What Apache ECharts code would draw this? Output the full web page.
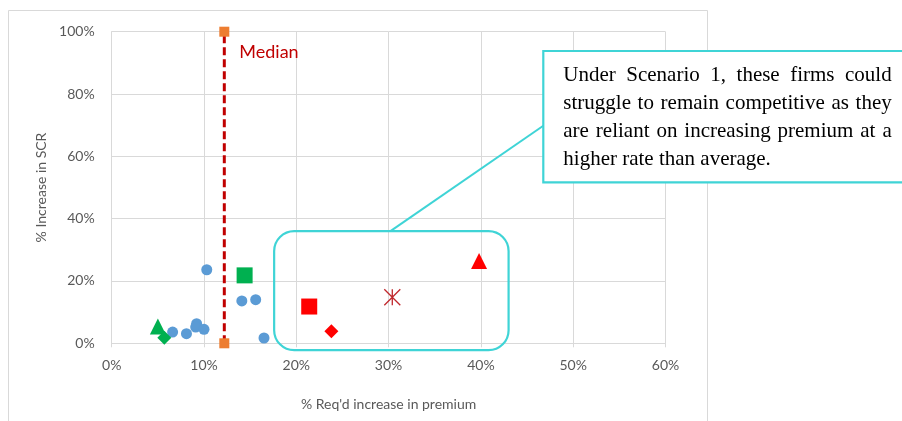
<!DOCTYPE html>
<html>
<head>
<meta charset="utf-8">
<script src="https://cdn.jsdelivr.net/npm/echarts@6/dist/echarts.min.js"></script>
<style>
  html, body { margin: 0; padding: 0; background: #fff; }
  #chart { width: 902px; height: 421px; }
</style>
</head>
<body>
<div id="chart"></div>
<script>
// Required premium increase (%) vs. increase in SCR (%) per firm
const peerFirms = [[10.3, 23.6], [14.1, 13.6], [15.6, 14.0], [6.6, 3.6], [8.1, 3.1],
                   [9.2, 6.3], [9.1, 5.2], [10.0, 4.5], [16.5, 1.7]];
const greenSquare = [[14.4, 21.8]];
const greenTriangle = [[5.0, 5.4]];
const greenDiamond = [[5.7, 1.8]];
const redSquare = [[21.4, 11.8]];
const redDiamond = [[23.8, 3.9]];
const redTriangle = [[39.8, 26.4]];
const redStar = [[30.4, 14.8]];
const medianPremium = 12.2;
const medianLine = [[medianPremium, 0], [medianPremium, 100]];

const xTicks = [0, 10, 20, 30, 40, 50, 60];
const yTicks = [0, 20, 40, 60, 80, 100];

const xTitle = "% Req'd increase in premium";
const yTitle = '% Increase in SCR';
const medianText = 'Median';
const calloutLines = [
  'Under Scenario 1, these firms could',
  'struggle to remain competitive as they',
  'are reliant on increasing premium at a',
  'higher rate than average.'
];

const AXIS_FONT = 'Lato';
const GREY_TEXT = '#595959';
const GRID_GREY = '#d9d9d9';
const CYAN = '#3fd4d6';

const chart = echarts.init(document.getElementById('chart'), null, { renderer: 'canvas' });

function pt(data, color, symbol, size, extra) {
  return Object.assign({
    type: 'scatter',
    data: data,
    symbol: symbol,
    symbolSize: size,
    itemStyle: { color: color, opacity: 1 },
    z: 5
  }, extra || {});
}

const option = {
  animation: false,
  backgroundColor: '#fff',
  grid: { left: 111.7, right: 236.5, top: 31.7, bottom: 77.7, containLabel: false },
  xAxis: {
    type: 'value',
    min: xTicks[0],
    max: xTicks[xTicks.length - 1],
    interval: xTicks[1] - xTicks[0],
    name: xTitle,
    nameLocation: 'middle',
    nameGap: 54,
    nameTextStyle: { fontFamily: AXIS_FONT, fontSize: 14, color: GREY_TEXT },
    axisLine: { show: true, lineStyle: { color: GRID_GREY, width: 1 } },
    axisTick: { show: true, length: 4, lineStyle: { color: GRID_GREY } },
    axisLabel: { formatter: '{value}%', fontFamily: AXIS_FONT, fontSize: 14, color: GREY_TEXT, margin: 15 },
    splitLine: { show: true, lineStyle: { color: GRID_GREY, width: 1 } }
  },
  yAxis: {
    type: 'value',
    min: yTicks[0],
    max: yTicks[yTicks.length - 1],
    interval: yTicks[1] - yTicks[0],
    name: yTitle,
    nameLocation: 'middle',
    nameGap: 62,
    nameRotate: 90,
    nameTextStyle: { fontFamily: AXIS_FONT, fontSize: 14, color: GREY_TEXT },
    axisLine: { show: true, lineStyle: { color: GRID_GREY, width: 1 } },
    axisTick: { show: false },
    axisLabel: { formatter: '{value}%', fontFamily: AXIS_FONT, fontSize: 14, color: GREY_TEXT, margin: 17 },
    splitLine: { show: true, lineStyle: { color: GRID_GREY, width: 1 } }
  },
  series: [
    {
      type: 'line',
      data: medianLine,
      symbol: 'rect',
      symbolSize: 10,
      showAllSymbol: true,
      itemStyle: { color: '#ed7d31' },
      lineStyle: { color: '#c00000', width: 3, type: [8, 4] },
      label: {
        show: true,
        position: 'right',
        distance: 0,
        offset: [10, 20],
        formatter: function (p) { return p.dataIndex === 1 ? medianText : ''; },
        fontFamily: AXIS_FONT,
        fontSize: 18,
        color: '#c00000'
      },
      z: 4
    },
    pt(peerFirms, '#5b9bd5', 'circle', 11),
    pt(greenSquare, '#00b050', 'rect', 16),
    pt(greenTriangle, '#00b050', 'triangle', 16),
    pt(greenDiamond, '#00b050', 'diamond', [14, 14]),
    pt(redSquare, '#ff0000', 'rect', 16),
    pt(redDiamond, '#ff0000', 'diamond', [14, 14]),
    pt(redTriangle, '#ff0000', 'triangle', 16),
    pt(redStar, '#c00000', 'path://M0,0L16,16M16,0L0,16M8,0L8,16', 16, {
      itemStyle: { color: 'none', borderColor: '#c0282d', borderWidth: 1.3, opacity: 1 }
    })
  ]
};

chart.setOption(option);

// Annotation overlay: highlight region, connector and justified callout text
const highlightRegion = { x0: 17.6, x1: 43.0, y0: -2.2, y1: 36.0 };
const tl = chart.convertToPixel({ gridIndex: 0 }, [highlightRegion.x0, highlightRegion.y1]);
const br = chart.convertToPixel({ gridIndex: 0 }, [highlightRegion.x1, highlightRegion.y0]);
const hookPt = chart.convertToPixel({ gridIndex: 0 }, [30.2, highlightRegion.y1]);

const box = { x: 543.3, y: 51, w: 362, h: 131.3 };
const textLeft = 563.3, textWidth = 328.4, firstBaseline = 82.3, lineStep = 27.9;
const calloutFont = '21px "Liberation Serif"';

const measureCtx = document.createElement('canvas').getContext('2d');
measureCtx.font = calloutFont;

const graphics = [
  {
    type: 'rect',
    shape: { x: 8.5, y: 10.5, width: 699, height: 440 },
    style: { fill: 'none', stroke: GRID_GREY, lineWidth: 1 },
    z: -10, silent: true
  },
  {
    type: 'rect',
    shape: { x: tl[0], y: tl[1], width: br[0] - tl[0], height: br[1] - tl[1], r: 20 },
    style: { fill: 'none', stroke: CYAN, lineWidth: 2.2 },
    z: 10, silent: true
  },
  {
    type: 'line',
    shape: { x1: hookPt[0], y1: hookPt[1], x2: box.x, y2: 125.7 },
    style: { stroke: CYAN, lineWidth: 2 },
    z: 10, silent: true
  },
  {
    type: 'rect',
    shape: { x: box.x, y: box.y, width: box.w, height: box.h },
    style: { fill: '#fff', stroke: CYAN, lineWidth: 2.2 },
    z: 11, silent: true
  }
];

calloutLines.forEach(function (line, i) {
  const y = firstBaseline + i * lineStep - 7;
  const words = line.split(' ');
  const last = i === calloutLines.length - 1;
  if (last) {
    graphics.push({
      type: 'text', z: 12, silent: true,
      style: { text: line, x: textLeft, y: y, font: calloutFont, fill: '#000', align: 'left', verticalAlign: 'middle' }
    });
    return;
  }
  const wordWidths = words.map(function (w) { return measureCtx.measureText(w).width; });
  const total = wordWidths.reduce(function (a, b) { return a + b; }, 0);
  const gap = (textWidth - total) / (words.length - 1);
  let x = textLeft;
  words.forEach(function (w, k) {
    graphics.push({
      type: 'text', z: 12, silent: true,
      style: { text: w, x: x, y: y, font: calloutFont, fill: '#000', align: 'left', verticalAlign: 'middle' }
    });
    x += wordWidths[k] + gap;
  });
});

chart.setOption({ graphic: graphics });
</script>
</body>
</html>
